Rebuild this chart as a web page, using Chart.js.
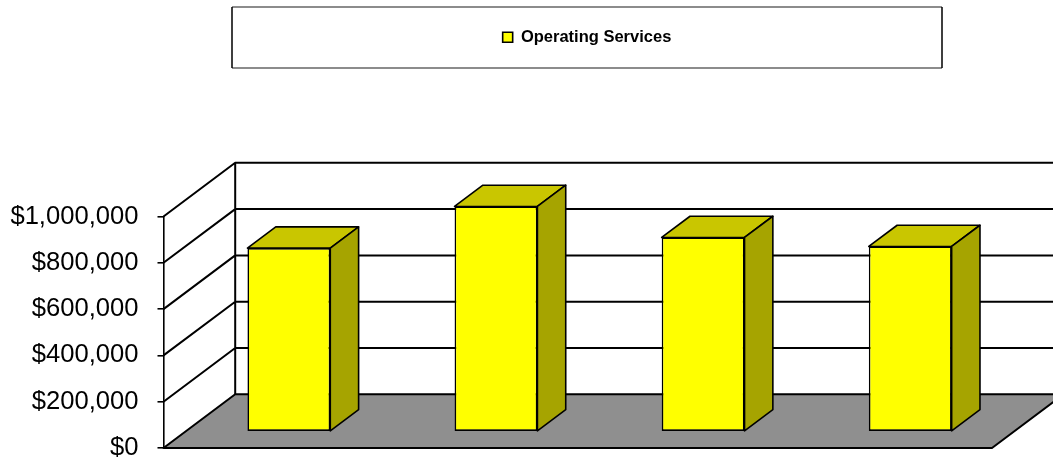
<!DOCTYPE html>
<html>
<head>
<meta charset="utf-8">
<script src="https://cdn.jsdelivr.net/npm/chart.js@4.4.1/dist/chart.umd.min.js"></script>
<style>
    html, body { margin: 0; padding: 0; background: #fff; }
    #wrap { width: 1053px; height: 462px; }
</style>
</head>
<body>
<div id="wrap"><canvas id="barChart"></canvas></div>
<script>
// ---------- DATA ----------
const categories = ["Year 1", "Year 2", "Year 3", "Year 4"];
const seriesName = "Operating Services";
const operatingServices = [793000, 973000, 839000, 800000];
const yTicks = [0, 200000, 400000, 600000, 800000, 1000000];

// ---------- 3D LOOK ----------
const FONT = "'Liberation Sans', Arial, sans-serif";
const DEPTH_X = 71.7;      // how far the back wall sits right of the front plane
const DEPTH_Y = -53.7;     // ... and how far up
const BAR_FRONT = 0.304;   // bar front face, as a share of the depth
const BAR_BACK = 0.699;    // bar back face
const FRONT_COLOR = "#ffff00";
const TOP_COLOR = "#c9c600";
const SIDE_COLOR = "#a6a400";
const FLOOR_COLOR = "#8f8f8f";

function poly(ctx, pts, fill) {
    ctx.beginPath();
    ctx.moveTo(pts[0][0], pts[0][1]);
    for (let i = 1; i < pts.length; i++) ctx.lineTo(pts[i][0], pts[i][1]);
    ctx.closePath();
    ctx.fillStyle = fill;
    ctx.fill();
    ctx.stroke();
}

const threeD = {
    id: "threeD",
    beforeInit(chart) {
        // make the legend take the whole band above the plot
        const legend = chart.legend;
        const fit = legend.fit;
        legend.fit = function () {
            fit.call(this);
            this.height = 216.5;
        };
    },
    afterLayout(chart) {
        const lg = chart.legend;
        lg.left = 232;
        lg.right = 942;
        lg.width = 710;
    },
    beforeDraw(chart) {
        const { ctx, chartArea: ca } = chart;
        const y = chart.scales.y;
        ctx.save();
        ctx.fillStyle = "#fff";
        ctx.fillRect(0, 0, chart.width, chart.height);

        // legend frame
        const lg = chart.legend;
        ctx.fillStyle = "#fff";
        ctx.fillRect(lg.left, 7, lg.right - lg.left, 61);
        ctx.lineWidth = 2;
        ctx.strokeStyle = "#8c8c8c";
        ctx.beginPath();
        ctx.moveTo(lg.left, 7); ctx.lineTo(lg.right, 7);
        ctx.moveTo(lg.left, 68); ctx.lineTo(lg.right, 68);
        ctx.stroke();
        ctx.lineWidth = 1.5;
        ctx.strokeStyle = "#000";
        ctx.beginPath();
        ctx.moveTo(lg.left, 7); ctx.lineTo(lg.left, 68);
        ctx.moveTo(lg.right, 7); ctx.lineTo(lg.right, 68);
        ctx.stroke();

        const L = ca.left, R = ca.right;
        const y0 = y.getPixelForValue(0);
        const yTop = y.getPixelForValue(y.max);

        // floor
        ctx.lineWidth = 2;
        ctx.strokeStyle = "#000";
        ctx.lineJoin = "round";
        poly(ctx, [[L, y0], [R, y0], [R + DEPTH_X, y0 + DEPTH_Y], [L + DEPTH_X, y0 + DEPTH_Y]], FLOOR_COLOR);

        // gridlines: across the side wall, then along the back wall
        ctx.beginPath();
        y.ticks.forEach(t => {
            if (t.value === 0) return;
            const py = y.getPixelForValue(t.value);
            ctx.moveTo(L, py);
            ctx.lineTo(L + DEPTH_X, py + DEPTH_Y);
            ctx.lineTo(chart.width + 20, py + DEPTH_Y);
        });
        ctx.moveTo(L + DEPTH_X, yTop + DEPTH_Y);
        ctx.lineTo(L + DEPTH_X, y0 + DEPTH_Y);
        ctx.stroke();
        ctx.restore();
    },
    beforeDatasetsDraw(chart) {
        const ctx = chart.ctx;
        const ax = DEPTH_X * BAR_FRONT, ay = DEPTH_Y * BAR_FRONT;
        const ex = DEPTH_X * (BAR_BACK - BAR_FRONT), ey = DEPTH_Y * (BAR_BACK - BAR_FRONT);
        ctx.save();
        ctx.lineWidth = 1.6;
        ctx.strokeStyle = "#000";
        ctx.lineJoin = "round";
        chart.getDatasetMeta(0).data.forEach(bar => {
            const { x, y, base, width } = bar.getProps(["x", "y", "base", "width"], true);
            const l = x - width / 2 + ax, r = x + width / 2 + ax;
            const t = y + ay, b = base + ay;
            poly(ctx, [[l, t], [r, t], [r + ex, t + ey], [l + ex, t + ey]], TOP_COLOR);
            poly(ctx, [[r, t], [r + ex, t + ey], [r + ex, b + ey], [r, b]], SIDE_COLOR);
        });
        ctx.restore();
        // front faces are drawn by Chart.js, pushed back into the floor
        ctx.save();
        ctx.translate(ax, ay);
    },
    afterDatasetsDraw(chart) {
        chart.ctx.restore();
    }
};

// ---------- BAR CHART ----------
new Chart(document.getElementById("barChart").getContext("2d"), {
    type: "bar",
    data: {
        labels: categories,
        datasets: [{
            label: seriesName,
            data: operatingServices,
            backgroundColor: FRONT_COLOR,
            borderColor: "#000",
            borderWidth: 1.6,
            borderSkipped: false,
            categoryPercentage: 1,
            barPercentage: 0.4
        }]
    },
    options: {
        responsive: true,
        maintainAspectRatio: false,
        animation: false,
        layout: { padding: { top: 0, left: 0, right: 61, bottom: 14 } },
        plugins: {
            tooltip: { enabled: false },
            legend: {
                position: "top",
                labels: {
                    boxWidth: 10,
                    boxHeight: 10,
                    padding: 29,
                    color: "#000",
                    font: { family: FONT, size: 16.5, weight: "bold" }
                }
            }
        },
        scales: {
            x: { display: false },
            y: {
                min: 0,
                max: 1000000,
                afterBuildTicks: axis => { axis.ticks = yTicks.map(v => ({ value: v })); },
                afterFit: axis => {
                    axis.width = 163.5;
                    axis.paddingTop = 0;
                    axis.paddingBottom = 0;
                },
                border: { display: true, color: "#000", width: 1.6 },
                grid: {
                    drawOnChartArea: false,
                    drawTicks: true,
                    tickLength: 6,
                    color: "#000",
                    lineWidth: 1.6
                },
                ticks: {
                    padding: 19,
                    color: "#000",
                    font: { family: FONT, size: 25.6, lineHeight: 1 },
                    callback: v => "$" + Number(v).toLocaleString("en-US")
                }
            }
        }
    },
    plugins: [threeD]
});
</script>
</body>
</html>
